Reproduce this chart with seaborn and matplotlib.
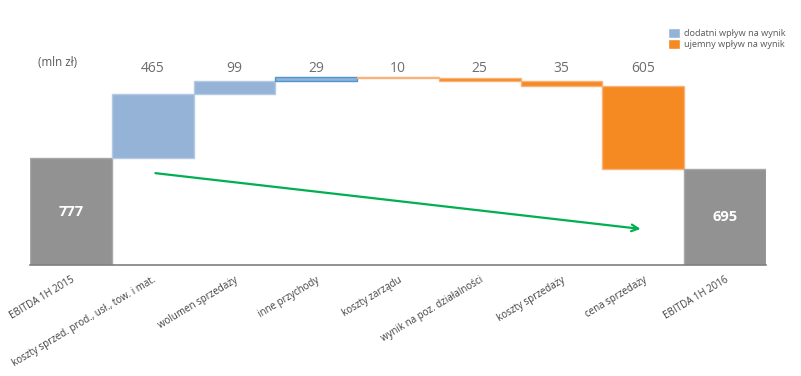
import matplotlib.pyplot as plt
import seaborn as sns
from matplotlib.patches import Patch

# data (mln zł)
categories = ['EBITDA 1H 2015', 'koszty sprzed. prod., usł., tow. i mat.',
              'wolumen sprzedaży', 'inne przychody', 'koszty zarządu',
              'wynik na poz. działalności', 'koszty sprzedaży',
              'cena sprzedaży', 'EBITDA 1H 2016']
start_value = 777
changes = [465, 99, 29, -10, -25, -35, -605]
end_value = 695

gray = '#929292'
blue = '#95b3d7'
orange = '#f58a22'

sns.set_style('white')
plt.rcParams['font.family'] = ['Open Sans', 'DejaVu Sans']

# build waterfall bottoms / heights
bottoms = [0]
heights = [start_value]
level = start_value
for c in changes:
    bottoms.append(min(level, level + c))
    heights.append(abs(c))
    level += c
bottoms.append(0)
heights.append(end_value)

fig = plt.figure(figsize=(8.01, 3.76), dpi=100)
ax = fig.add_axes([30 / 801, 111 / 376, 736 / 801, 0.6585])

sns.barplot(x=categories, y=heights, bottom=bottoms, width=1.0,
            color=gray, linewidth=1, ax=ax)

# colour each bar
for i, bar in enumerate(ax.patches):
    if i == 0 or i == len(categories) - 1:
        bar.set_facecolor(gray)
        bar.set_edgecolor('#a8a8a8')
    elif changes[i - 1] > 0:
        bar.set_facecolor(blue)
        bar.set_edgecolor('#4a96d2' if abs(changes[i - 1]) < 50 else '#b4c9e4')
    else:
        bar.set_facecolor(orange)
        bar.set_edgecolor('#f9b27a')

# value labels
label_y = max(b + h for b, h in zip(bottoms, heights)) + 55
for i, c in enumerate(changes, start=1):
    ax.text(i, label_y, str(abs(c)), ha='center', va='center',
            fontsize=10, color='#6e6e6e')
for i, v in [(0, start_value), (len(categories) - 1, end_value)]:
    ax.text(i, v / 2, str(v), ha='center', va='center', fontsize=10.5,
            fontweight='bold', color='white')

# trend arrow
ax.annotate('', xy=(7, 260), xytext=(1, 670),
            arrowprops=dict(arrowstyle='->', color='#00b050', lw=1.6,
                            mutation_scale=12))

ax.set_xlim(-0.5, len(categories) - 0.5)
ax.set_ylim(0, 1800)
ax.set_yticks([])
ax.set_xlabel('')
ax.set_ylabel('')
sns.despine(ax=ax, left=True)
ax.spines['bottom'].set_color('#7f7f7f')
ax.spines['bottom'].set_linewidth(1.2)
ax.tick_params(axis='x', length=0, pad=7, labelsize=7, labelcolor='#404040')
plt.setp(ax.get_xticklabels(), rotation=31, ha='right', rotation_mode='anchor')

fig.text(38 / 801, 1 - 62 / 376, '(mln zł)', fontsize=8.3, color='#595959',
         va='center')

handles = [Patch(facecolor=blue, label='dodatni wpływ na wynik'),
           Patch(facecolor=orange, label='ujemny wpływ na wynik')]
fig.legend(handles=handles, loc='upper left', bbox_to_anchor=(660 / 801, 1 - 20 / 376),
           frameon=False, fontsize=6.6, handlelength=1.3, handleheight=1.3,
           handletextpad=0.4, labelspacing=0.1, labelcolor='#595959')

fig.savefig('out.png', dpi=100)
